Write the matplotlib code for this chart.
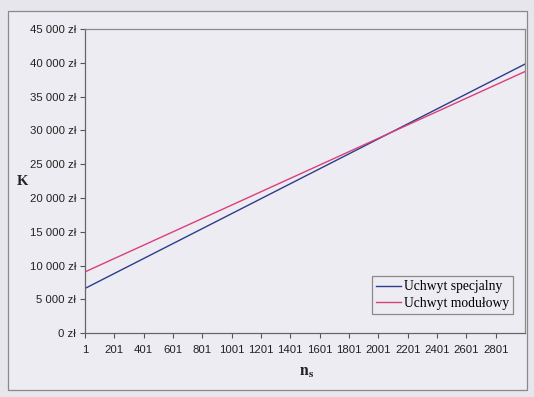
import matplotlib
matplotlib.use('Agg')

import matplotlib.pyplot as plt
from matplotlib.patches import Rectangle
from matplotlib.ticker import FuncFormatter

# data (cost K vs. batch size n_s)
n_values = [1, 3000]
cost_special = [6600, 39800]   # Uchwyt specjalny
cost_modular = [9050, 38700]   # Uchwyt modułowy
series_names = ["Uchwyt specjalny", "Uchwyt modułowy"]
x_ticks = [1, 201, 401, 601, 801, 1001, 1201, 1401, 1601, 1801,
           2001, 2201, 2401, 2601, 2801]
y_ticks = [0, 5000, 10000, 15000, 20000, 25000, 30000, 35000, 40000, 45000]

bg_out = '#e7e6ec'
bg = '#edecf2'
plt.rcParams['font.family'] = ['Liberation Sans', 'DejaVu Sans']
plt.rcParams['mathtext.fontset'] = 'stix'

fig = plt.figure(figsize=(5.34, 3.97), dpi=100, facecolor=bg_out)

# outer chart frame (behind the axes)
fig.patches.append(Rectangle((0.015, 0.018), 0.972, 0.954, transform=fig.transFigure,
                             facecolor=bg, edgecolor='#8a8a8a', linewidth=0.9,
                             zorder=-1))

ax = fig.add_axes([0.159, 0.161, 0.824, 0.766], facecolor=bg)

ax.plot(n_values, cost_special, color='#2d3c8c', linewidth=1.0, label=series_names[0])
ax.plot(n_values, cost_modular, color='#d9407a', linewidth=1.0, label=series_names[1])

ax.set_xlim(1, 3000)
ax.set_ylim(0, 45000)
ax.set_xticks(x_ticks)
ax.set_xticklabels([str(t) for t in x_ticks])
ax.set_yticks(y_ticks)


def zl(v, pos):
    return f"{int(v):,}".replace(",", " ") + " zł"


ax.yaxis.set_major_formatter(FuncFormatter(zl))
ax.tick_params(axis='both', labelsize=8.2, colors='#555555', labelcolor='#222222',
               length=3.5, width=0.8, direction='out')
ax.tick_params(axis='y', pad=3)
ax.tick_params(axis='x', pad=5)

for side in ['left', 'bottom']:
    ax.spines[side].set_color('#666666')
    ax.spines[side].set_linewidth(0.9)
for side in ['top', 'right']:
    ax.spines[side].set_color('#8a8a8a')
    ax.spines[side].set_linewidth(0.9)

fig.text(22 / 534, 1 - 182 / 397, 'K', family='Liberation Serif', fontweight='bold',
         fontsize=10.5, ha='center', va='center', color='#222222')
fig.text(307 / 534, 1 - 372 / 397, r'$\mathbf{n}_\mathbf{s}$', fontsize=11.5,
         ha='center', va='center', color='#222222')

leg = ax.legend(loc='lower right', bbox_to_anchor=(0.973, 0.063),
                prop={'family': 'Liberation Serif', 'size': 9.8},
                frameon=True, fancybox=False, framealpha=1, facecolor=bg,
                edgecolor='#8a8a8a', borderpad=0.3, handlelength=1.8,
                handletextpad=0.2, labelspacing=0.25, borderaxespad=0)
leg.get_frame().set_linewidth(0.9)

fig.savefig('out.png', dpi=100, facecolor=bg_out)
